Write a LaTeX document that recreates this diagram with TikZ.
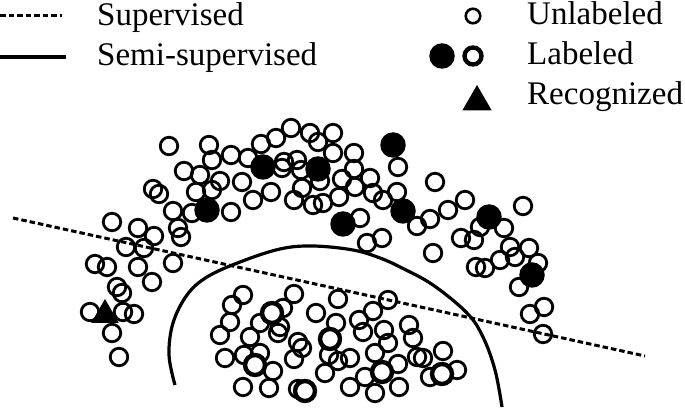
\documentclass[tikz,border=0pt]{standalone}
\usepackage{fontspec}
\setmainfont{Liberation Serif}
\usetikzlibrary{shapes.geometric}
\begin{document}
\begin{tikzpicture}[x=1pt,y=-1pt,
  uc/.style={circle,draw=black,line width=2.8pt,minimum size=17.5pt,inner sep=0pt},
  lc/.style={circle,draw=black,fill=white,line width=4.4pt,minimum size=20pt,inner sep=0pt},
  fc/.style={circle,fill=black,minimum size=25.5pt,inner sep=0pt},
  tri/.style={regular polygon,regular polygon sides=3,fill=black,inner sep=0pt,minimum size=31pt},
  dashline/.style={line width=3pt,dash pattern=on 5.5pt off 3pt},
  solidline/.style={line width=3.2pt},
  lab/.style={anchor=base west,inner sep=0pt,font=\fontsize{33}{36}\selectfont}]
\useasboundingbox (0,0) rectangle (685,411);
% legend
\coordinate (l1a) at (0,16); \coordinate (l1b) at (62,16);
\coordinate (l2a) at (0,57); \coordinate (l2b) at (66,57);
\draw[dashline] (l1a) -- (l1b);
\draw[line width=3.8pt] (l2a) -- (l2b);
\node[lab] (tSup) at (97,26) {Supervised};
\node[lab] (tSemi) at (97,66) {Semi-supervised};
\node[lab] (tUnl) at (527,25) {Unlabeled};
\node[lab] (tLab) at (527,65) {Labeled};
\node[lab] (tRec) at (527,105) {Recognized};
\node[circle,draw=black,line width=2.6pt,minimum size=14.5pt,inner sep=0pt] (kU) at (473,16) {};
\node[fc] (kF) at (442,56) {};
\node[circle,draw=black,line width=4.4pt,minimum size=17pt,inner sep=0pt] (kL) at (473,56) {};
\node[tri,minimum size=34pt] (kT) at (477,102) {};
% unlabeled circles
\foreach \x/\y [count=\i] in {169/146,209/145,231/155,212/160,184/171,200/175,220/181,153/189,159/194,196/192,
 212/190,242/182,192/213,173/211,231/212,112/222,138/228,154/236,178/228,181/237,
 126/247,144/248,95/264,107/267,138/267,173/263,152/282,117/287,122/293,90/312,
 123/312,134/314,112/333,119/357,
 248/158,261/144,276/138,291/128,310/133,333/133,318/142,333/153,354/153,398/167,
 282/168,284/162,297/160,301/170,320/181,253/200,271/192,294/200,302/188,313/205,
 323/203,339/197,342/179,354/169,355/187,370/178,373/193,383/200,397/192,417/226,
 430/219,360/218,367/243,382/238,435/182,465/200,448/210,523/206,480/227,504/228,
 461/238,474/240,433/253,510/247,529/248,500/260,515/257,476/267,485/268,538/263,
 519/287,530/314,544/307,543/334,
 243/295,232/305,230/322,220/335,294/294,283/308,260/323,280/327,278/333,316/313,
 338/299,336/323,359/320,373/311,388/300,363/332,384/330,388/343,409/325,413/338,
 250/337,298/342,302/348,225/358,244/355,260/353,273/371,294/359,329/355,338/361,
 350/358,375/353,398/364,417/357,423/358,443/351,243/387,269/388,298/389,325/373,
 350/387,365/377,375/393,399/387,430/377,457/370}
 \node[uc] (u\i) at (\x,\y) {};
% labeled open circles
\foreach \x/\y [count=\i] in {272/313,330/339,255/365,305/391,382/372,442/374}
 \node[lc] (o\i) at (\x,\y) {};
% labeled filled circles
\foreach \x/\y [count=\i] in {207/210,263/167,318/169,393/145,403/211,343/224,489/217,532/275}
 \node[fc] (f\i) at (\x,\y) {};
% recognized
\node[tri,minimum size=32pt] (rec) at (105,315) {};
% supervised boundary
\coordinate (dA) at (13,218); \coordinate (dB) at (645,356);
\draw[dashline] (dA) -- (dB);
% semi-supervised boundary
\coordinate (sA) at (175,385); \coordinate (sB) at (502,407);
\draw[solidline] plot[smooth,tension=0.6] coordinates {(sA) (169,355) (173,323) (187,295) (207,277) (240,262) (280,249) (313,246) (353,250) (380,258) (402,268) (433,285) (467,313) (483,337) (495,370) (sB)};
\end{tikzpicture}
\end{document}
